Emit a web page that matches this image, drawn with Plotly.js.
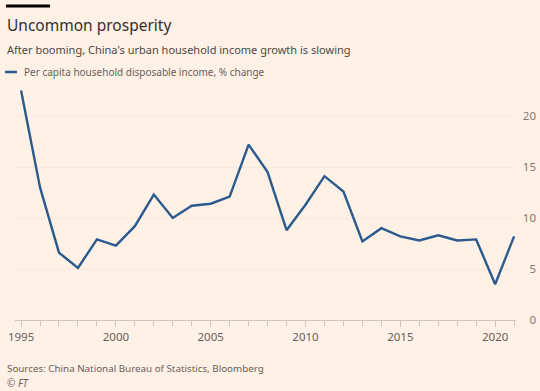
<!DOCTYPE html>
<html>
<head>
<meta charset="utf-8">
<script src="https://cdn.plot.ly/plotly-3.0.1.min.js"></script>
<style>
html,body{margin:0;padding:0;background:#FFF1E5;}
#chart{width:540px;height:391px;}
</style>
</head>
<body>
<div id="chart"></div>
<script>
const years = [1995,1996,1997,1998,1999,2000,2001,2002,2003,2004,2005,2006,2007,2008,2009,2010,2011,2012,2013,2014,2015,2016,2017,2018,2019,2020,2021];
const incomeGrowth = [22.5,13.0,6.6,5.1,7.9,7.3,9.2,12.3,10.0,11.2,11.4,12.1,17.2,14.5,8.8,11.3,14.1,12.6,7.7,9.0,8.2,7.8,8.3,7.8,7.9,3.5,8.2];
const seriesName = "Per capita household disposable income, % change";
const titleText = "Uncommon prosperity";
const subtitleText = "After booming, China's urban household income growth is slowing";
const sourceText = "Sources: China National Bureau of Statistics, Bloomberg";
const yTicks = [0,5,10,15,20];

const FONT = "Noto Sans, sans-serif";

const trace = {
  x: years, y: incomeGrowth, type: 'scatter', mode: 'lines',
  name: seriesName,
  line: {color: '#2B5A8E', width: 2.4},
  hoverinfo: 'skip', showlegend: false
};

const layout = {
  width: 540, height: 391,
  paper_bgcolor: '#FFF1E5', plot_bgcolor: '#FFF1E5',
  margin: {l: 15, r: 4, t: 85, b: 71},
  font: {family: FONT, color: '#66605C'},
  xaxis: {
    domain: [0, 501/521],
    range: [1994.68, 2021.1],
    tickmode: 'array', tickvals: [1995,2000,2005,2010,2015,2020],
    ticks: 'outside', ticklen: 6, tickcolor: '#CFC5BB', tickwidth: 1,
    minor: {dtick: 1, tick0: 1995, ticks: 'outside', ticklen: 5, tickcolor: '#CFC5BB', showgrid: false},
    showgrid: false, zeroline: false,
    showline: true, linecolor: '#CFC5BB', linewidth: 1,
    tickfont: {size: 11.5, color: '#66605C', family: FONT},
    fixedrange: true
  },
  yaxis: {
    range: [0, 23.04],
    tickvals: yTicks,
    side: 'left', anchor: 'free', position: 1,
    showgrid: true, gridcolor: '#F9EADC', gridwidth: 1,
    zeroline: false, showline: false, ticks: '',
    tickfont: {size: 11.5, color: '#807973', family: FONT},
    fixedrange: true
  },
  shapes: [
    {type: 'rect', xref: 'paper', yref: 'paper', x0: -9/521, x1: 35/521, y0: 1 + (85-7.5)/235, y1: 1 + (85-4.5)/235, fillcolor: '#000000', line: {width: 0}},
    {type: 'line', xref: 'paper', yref: 'paper', x0: -10/521, x1: 2/521, y0: 1 + (85-72)/235, y1: 1 + (85-72)/235, line: {color: '#2B5A8E', width: 2.5}}
  ],
  annotations: [
    {text: titleText, xref: 'paper', yref: 'paper', x: -10/521, y: 1 + (85-12)/235, xanchor: 'left', yanchor: 'top', showarrow: false, font: {size: 15.5, color: '#33302E', family: FONT}},
    {text: subtitleText, xref: 'paper', yref: 'paper', x: -10/521, y: 1 + (85-40)/235, xanchor: 'left', yanchor: 'top', showarrow: false, font: {size: 11, color: '#4D4845', family: FONT}},
    {text: seriesName, xref: 'paper', yref: 'paper', x: 7/521, y: 1 + (85-72)/235, xanchor: 'left', yanchor: 'middle', showarrow: false, font: {size: 10, color: '#66605C', family: FONT}},
    {text: sourceText, xref: 'paper', yref: 'paper', x: -10/521, y: -(360-320)/235, xanchor: 'left', yanchor: 'top', showarrow: false, font: {size: 9.8, color: '#66605C', family: FONT}},
    {text: '<i>© FT</i>', xref: 'paper', yref: 'paper', x: -10/521, y: -(374-320)/235, xanchor: 'left', yanchor: 'top', showarrow: false, font: {size: 10, color: '#66605C', family: FONT}}
  ]
};

Plotly.newPlot('chart', [trace], layout, {displayModeBar: false, staticPlot: true});
</script>
</body>
</html>
